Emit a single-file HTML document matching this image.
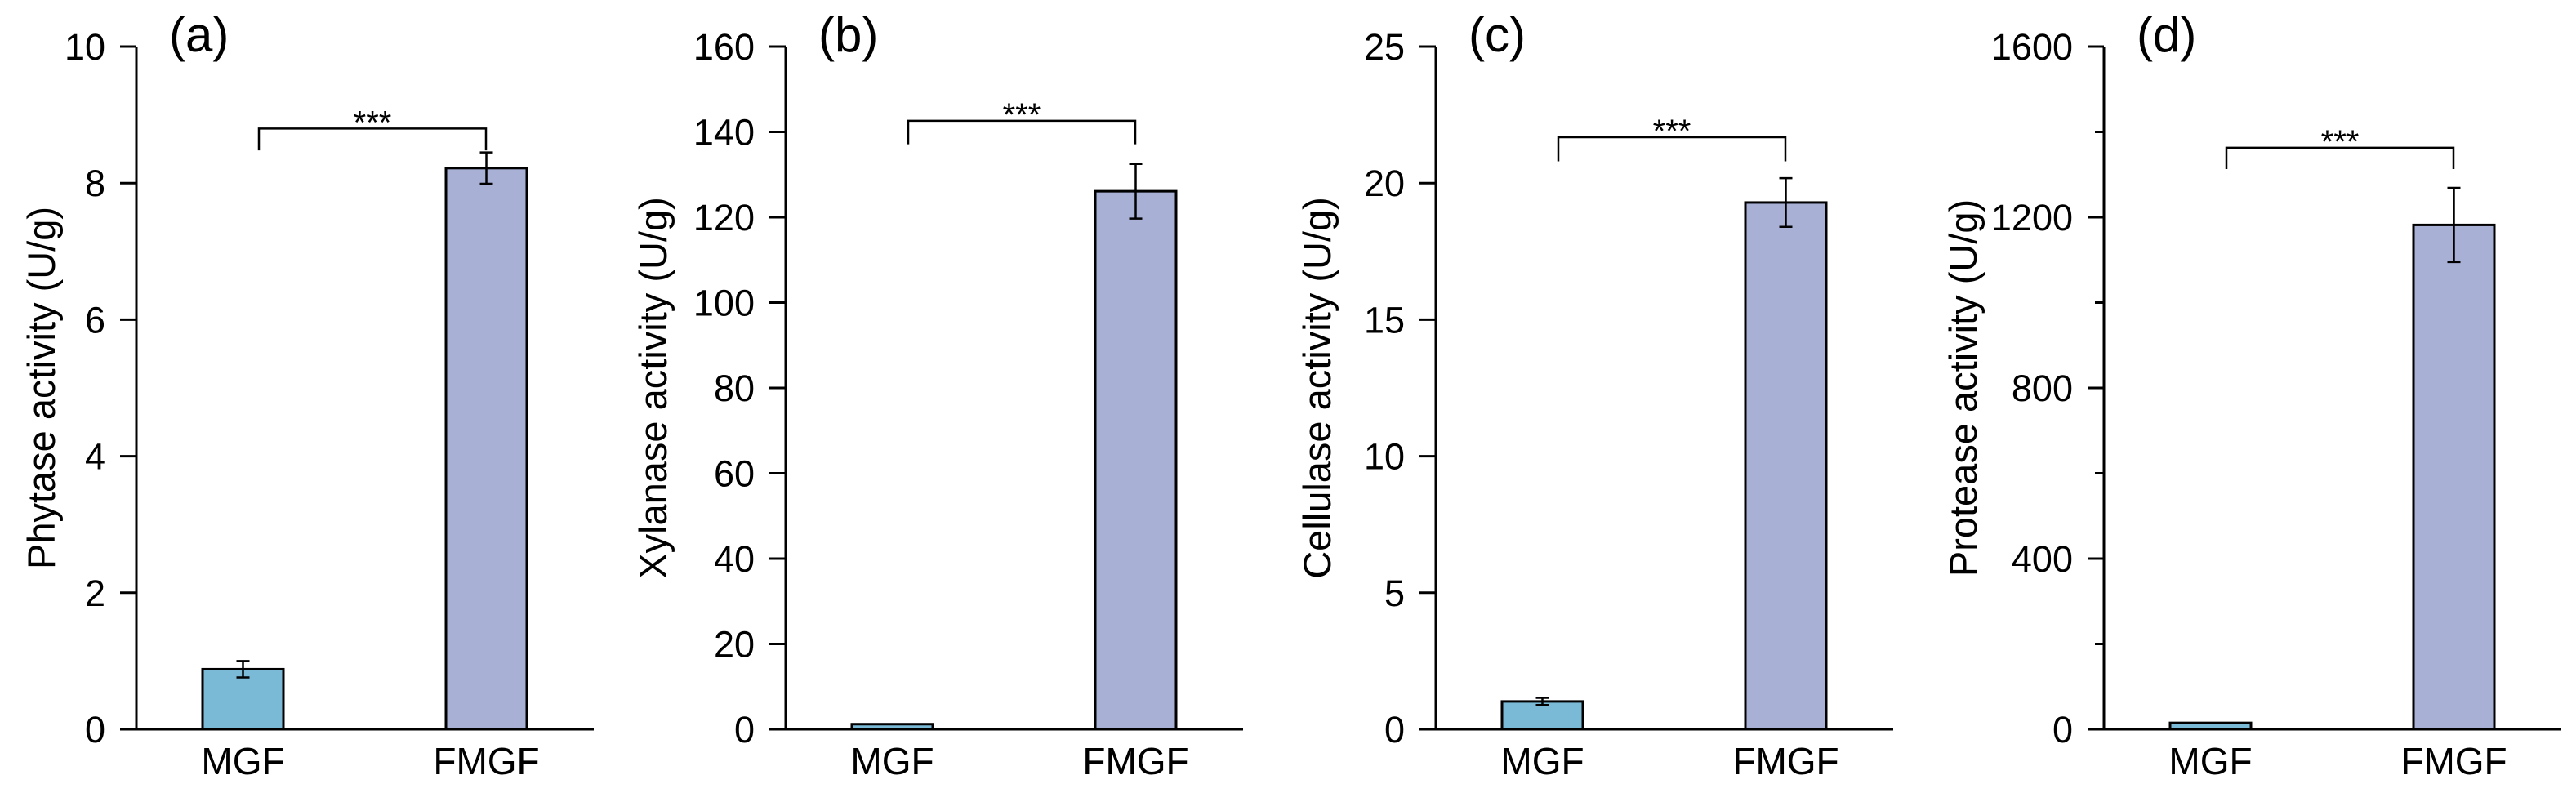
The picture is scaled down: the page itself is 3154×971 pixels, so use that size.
<!DOCTYPE html>
<html><head><meta charset="utf-8">
<style>
html,body{margin:0;padding:0;background:#fff;}
svg{display:block;font-family:"Liberation Sans",Arial,sans-serif;}
</style></head>
<body>
<svg id="fig" width="3154" height="971" viewBox="0 0 3154 971" xmlns="http://www.w3.org/2000/svg"></svg>
<script>
const categories = ["MGF", "FMGF"];
const panelLabels = ["(a)", "(b)", "(c)", "(d)"];
const yTitles = ["Phytase activity (U/g)", "Xylanase activity (U/g)", "Cellulase activity (U/g)", "Protease activity (U/g)"];
const yMaxes = [10, 160, 25, 1600];
const yTicksA = [0, 2, 4, 6, 8, 10];
const yTicksB = [0, 20, 40, 60, 80, 100, 120, 140, 160];
const yTicksC = [0, 5, 10, 15, 20, 25];
const yTicksD = [0, 400, 800, 1200, 1600];
const yMinorD = [200, 600, 1000, 1400];
const meansA = [0.88, 8.22];
const errsA = [0.12, 0.23];
const meansB = [1.2, 126.1];
const errsB = [0, 6.4];
const meansC = [1.02, 19.29];
const errsC = [0.13, 0.89];
const meansD = [15, 1182];
const errsD = [0, 87];
const bracketTops = [8.8, 142.6, 21.68, 1363];
const bracketLegs = [8.48, 137.1, 20.8, 1313];
const sigLabels = ["***", "***", "***", "***"];

const NS = "http://www.w3.org/2000/svg";
const svg = document.getElementById("fig");
function mk(tag, attrs, parent){
  const e = document.createElementNS(NS, tag);
  for (const k in attrs) e.setAttribute(k, attrs[k]);
  (parent||svg).appendChild(e);
  return e;
}
const axisXs = [167, 962, 1758, 2576];
const titleOffsets = [100, 146, 129, 156];
const Y0 = 893, Y1 = 57, AXLEN = 560;
const colors = ["#7bbad6", "#a8b0d6"];
const tickSets = [yTicksA, yTicksB, yTicksC, yTicksD];
const minorSets = [[], [], [], yMinorD];
const meanSets = [meansA, meansB, meansC, meansD];
const errSets = [errsA, errsB, errsC, errsD];

for (let p = 0; p < 4; p++) {
  const ax = axisXs[p];
  const ymax = yMaxes[p];
  const yS = v => Y0 - (v / ymax) * (Y0 - Y1);
  const barLeft = [ax + 81, ax + 379];
  const barW = 99;
  const g = mk("g", {});
  
  

  for (let i = 0; i < 2; i++) {
    const v = meanSets[p][i], e = errSets[p][i];
    const r = mk("rect", {x: barLeft[i], y: yS(v), width: barW, height: Y0 - yS(v), fill: colors[i], stroke: "#000", "stroke-width": 3}, g);
    
    
    if (e > 0) {
      const cx = barLeft[i] + barW / 2;
      const eb = mk("path", {d: `M${cx},${yS(v+e)}V${yS(v-e)}M${cx-8},${yS(v+e)}H${cx+8}M${cx-8},${yS(v-e)}H${cx+8}`, stroke: "#000", "stroke-width": 2.5, fill: "none"}, g);
      
      
    }
    const xl = mk("text", {x: barLeft[i] + barW / 2, y: 948, "font-size": 46, "text-anchor": "middle", fill: "#000"}, g);
    xl.textContent = categories[i];
    
    
  }

  const axes = mk("path", {d: `M${ax},${Y1}V${Y0}H${ax+AXLEN}`, stroke: "#000", "stroke-width": 3, fill: "none"}, g);
  
  
  for (const t of tickSets[p]) {
    const y = yS(t);
    const tk = mk("line", {x1: ax - 20, x2: ax, y1: y, y2: y, stroke: "#000", "stroke-width": 3}, g);
    
    
    const tl = mk("text", {x: ax - 38, y: y + 16, "font-size": 45, "text-anchor": "end", fill: "#000"}, g);
    tl.textContent = t;
    
    
  }
  for (const t of minorSets[p]) {
    const y = yS(t);
    const tk = mk("line", {x1: ax - 11, x2: ax, y1: y, y2: y, stroke: "#000", "stroke-width": 3}, g);
    
    
  }
  const tx = ax - titleOffsets[p];
  const yt = mk("text", {x: tx, y: 475, "font-size": 47, "text-anchor": "middle", fill: "#000", transform: `rotate(-90 ${tx} 475)`}, g);
  yt.textContent = yTitles[p];
  
  
  const pl = mk("text", {x: ax + 40, y: 63, "font-size": 60, fill: "#000"}, g);
  pl.textContent = panelLabels[p];
  
  
  const bx1 = ax + 150, bx2 = ax + 428;
  const by = yS(bracketTops[p]), bl = yS(bracketLegs[p]);
  const br = mk("path", {d: `M${bx1},${bl}V${by}H${bx2}V${bl}`, stroke: "#000", "stroke-width": 2.5, fill: "none"}, g);
  
  
  const st = mk("text", {x: (bx1 + bx2) / 2, y: by + 6, "font-size": 40, "text-anchor": "middle", fill: "#000"}, g);
  st.textContent = sigLabels[p];
  
  
}
</script>
</body></html>
